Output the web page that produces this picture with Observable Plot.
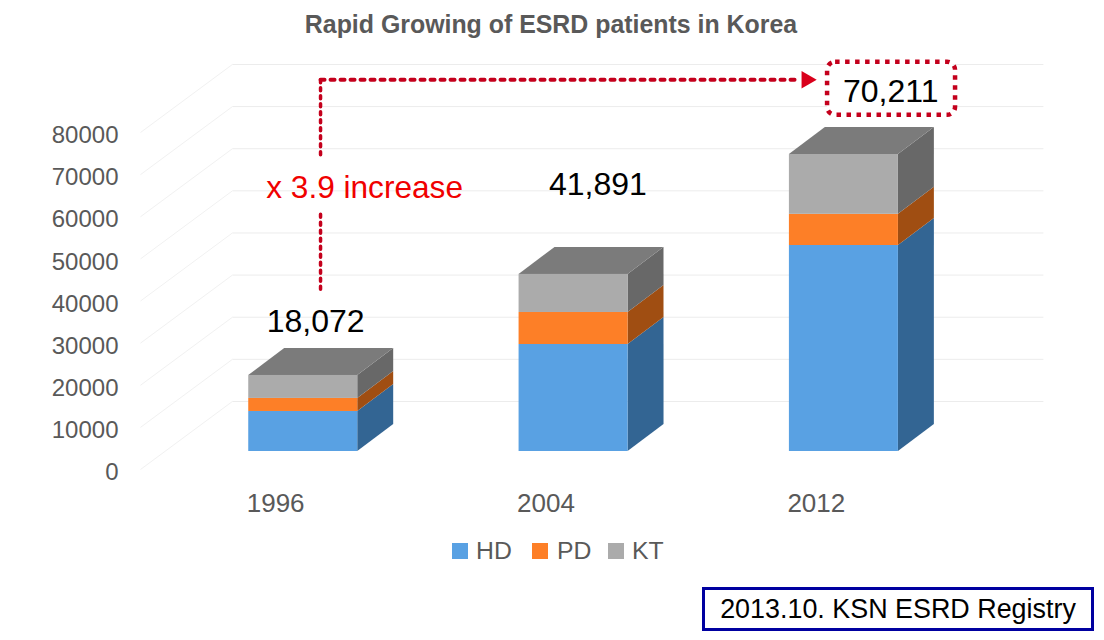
<!DOCTYPE html>
<html>
<head>
<meta charset="utf-8">
<script src="https://cdn.jsdelivr.net/npm/d3@7"></script>
<script src="https://cdn.jsdelivr.net/npm/@observablehq/plot@0.6"></script>
<style>
html,body{margin:0;padding:0;background:#fff;overflow:hidden;width:1104px;height:640px;font-family:"Liberation Sans",Arial,sans-serif}
#title{height:48px;line-height:48px;text-align:center;font-weight:bold;font-size:24.9px;color:#595959;width:1102px}
#chart svg{display:block}
#legend{position:absolute;left:0;top:530px;width:1104px;height:42px;color:#595959;font-size:24.8px}
#legend span{position:absolute;top:0;line-height:42px}
#legend i{position:absolute;top:13px;width:16px;height:16px;display:block}
#note{position:absolute;left:702px;top:587px;width:386px;height:38px;border:3px solid #0000a0;line-height:38px;text-align:center;font-size:26.9px;color:#000;white-space:nowrap}
</style>
</head>
<body>
<div id="title"></div>
<div id="chart"></div>
<div id="legend"></div>
<div id="note"></div>
<script>
const titleText = "Rapid Growing of ESRD patients in Korea";
const noteText = "2013.10. KSN ESRD Registry";
const years = ["1996", "2004", "2012"];
const seriesNames = ["HD", "PD", "KT"];
const hd = [9500, 25400, 48900];
const pd = [3100, 7600, 7400];
const kt = [5450, 9040, 14200];
const totalLabels = ["18,072", "41,891"];
const yTicks = [0, 10000, 20000, 30000, 40000, 50000, 60000, 70000, 80000];

const frontColors = ["#59a1e3", "#fd7f27", "#ababab"];
const sideColors = ["#336593", "#a04e12", "#686868"];
const topColor = "#7b7b7b";
const axisColor = "#595959";
const red = "#c4001c";
const font = "Liberation Sans, Arial, sans-serif";

// Oblique projection: depth moves a point right on x and up on y (in scale units).
const wallDx = 0.34, wallDy = 16150;
const barFrontDx = 0.102, barFrontDy = 4275;
const barDx = 0.133, barDy = 6410;
const barHalf = 0.2016;

const valuesBySeries = [hd, pd, kt];
const fronts = [], sides = [[], [], []], tops = [];
years.forEach((yr, i) => {
  const xl = i + 0.5 + barFrontDx - barHalf, xr = i + 0.5 + barFrontDx + barHalf;
  let base = 0;
  valuesBySeries.forEach((vals, s) => {
    const b = base + barFrontDy, t = base + vals[i] + barFrontDy;
    fronts.push({xl, xr, b, t, series: seriesNames[s]});
    sides[s].push({k: yr, x: xr, y1: b, y2: t});
    sides[s].push({k: yr, x: xr + barDx, y1: b + barDy, y2: t + barDy});
    base += vals[i];
  });
  const top = base + barFrontDy;
  tops.push({k: yr, y: top, x1: xl, x2: xr});
  tops.push({k: yr, y: top + barDy, x1: xl + barDx, x2: xr + barDx});
});

const labelsX = [0.648, 1.692];
const labelsY = [35150, 67690];
const growthUpper = [{x: 0.666, y: 74700}, {x: 0.666, y: 92500}];
const growthAcross = [{x: 0.666, y: 92500}, {x: 2.43, y: 92500}];
const growthLower = [{x: 0.666, y: 42800}, {x: 0.666, y: 60800}];

const svgTop = 48;
const chart = Plot.plot({
  width: 1104,
  height: 482,
  marginTop: 0, marginRight: 0, marginLeft: 118, marginBottom: 37,
  x: {type: "linear", domain: [0, 3], range: [140, 951]},
  y: {type: "linear", domain: [0, 80000], range: [469 - svgTop, 132 - svgTop]},
  color: {domain: seriesNames, range: frontColors},
  style: {fontFamily: font, background: "#fff"},
  marks: [
    Plot.link(yTicks, {x1: wallDx, x2: 3 + wallDx, y1: d => d + wallDy, y2: d => d + wallDy, stroke: "#ececec", strokeWidth: 1}),
    Plot.link(yTicks, {x1: 0, x2: wallDx, y1: d => d, y2: d => d + wallDy, stroke: "#f1f1f1", strokeWidth: 1}),
    Plot.axisY({ticks: yTicks, tickFormat: d3.format("d"), tickSize: 0, tickPadding: 0, fontSize: 24, color: axisColor, label: null, dy: 3}),
    Plot.axisX({ticks: [0.5, 1.5, 2.5], tickFormat: t => years[t - 0.5], tickSize: 0, tickPadding: 0, fontSize: 26, color: axisColor, label: null, lineAnchor: "top"}),
    ...sides.map((rows, s) => Plot.areaY(rows, {x: "x", y1: "y1", y2: "y2", z: "k", fill: sideColors[s]})),
    Plot.areaX(tops, {y: "y", x1: "x1", x2: "x2", z: "k", fill: topColor}),
    Plot.rect(fronts, {x1: "xl", x2: "xr", y1: "b", y2: "t", fill: "series"}),
    Plot.text(totalLabels, {x: (d, i) => labelsX[i], y: (d, i) => labelsY[i], text: d => d, fontSize: 32, fill: "#000"}),
    Plot.text(["x 3.9 increase"], {x: [0.829], y: [66800], text: d => d, fontSize: 31.6, fill: "#f00000"}),
    Plot.line(growthUpper, {x: "x", y: "y", stroke: red, strokeWidth: 3.5, strokeDasharray: "3 5"}),
    Plot.line(growthAcross, {x: "x", y: "y", stroke: red, strokeWidth: 4, strokeDasharray: "4 6"}),
    Plot.line(growthLower, {x: "x", y: "y", stroke: red, strokeWidth: 3.5, strokeDasharray: "3 5"}),
    Plot.dot([0], {x: [2.464], y: [92500], symbol: "triangle", rotate: 90, r: 6.5, fill: "#d9001b", stroke: "none"}),
    Plot.rect([0], {x1: [2.5416], x2: [3.015], y1: [84075], y2: [96660], rx: 8, fill: "#fff", stroke: red, strokeWidth: 4.5, strokeDasharray: "4.5 5.5"}),
    Plot.text(["70,211"], {x: [2.775], y: [89775], text: d => d, fontSize: 32, fill: "#000"})
  ]
});
document.getElementById("title").textContent = titleText;
document.getElementById("chart").appendChild(chart);
document.getElementById("note").textContent = noteText;

const legendSwatchX = [452, 532, 608];
const legendTextX = [476, 557, 632];
const legend = document.getElementById("legend");
seriesNames.forEach((name, i) => {
  const sw = document.createElement("i");
  sw.style.left = legendSwatchX[i] + "px";
  sw.style.background = frontColors[i];
  legend.appendChild(sw);
  const tx = document.createElement("span");
  tx.style.left = legendTextX[i] + "px";
  tx.textContent = name;
  legend.appendChild(tx);
});
</script>
</body>
</html>
